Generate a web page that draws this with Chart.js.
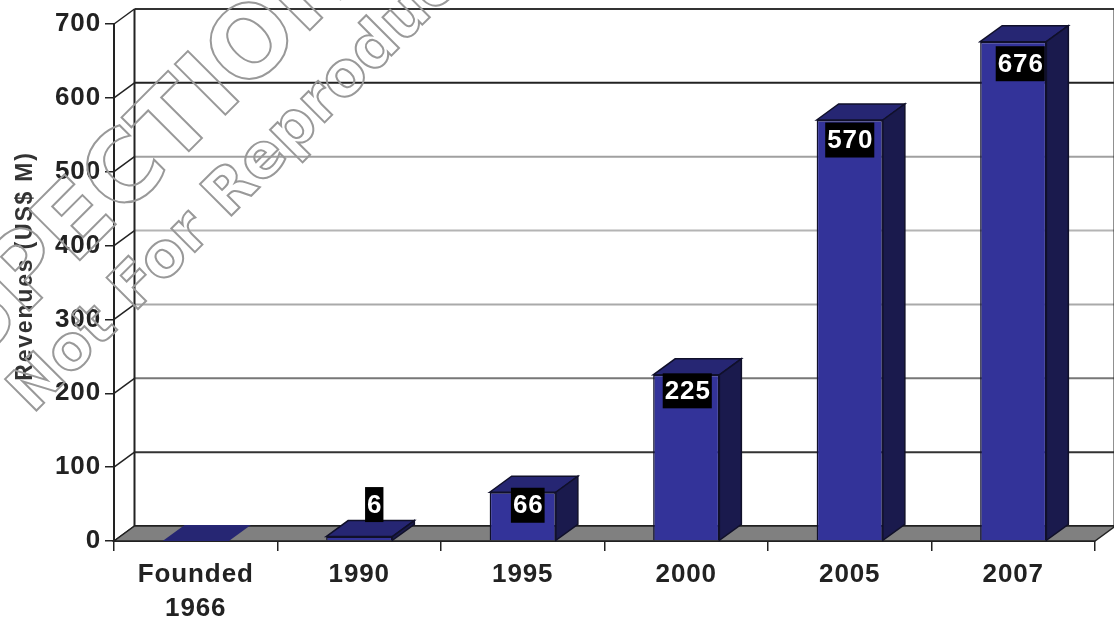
<!DOCTYPE html>
<html>
<head>
<meta charset="utf-8">
<title>Revenues</title>
<script src="https://cdn.jsdelivr.net/npm/chart.js@4"></script>
<style>
  html, body { margin:0; padding:0; background:#fff; overflow:hidden; }
  canvas { display:block; filter:blur(0.55px); }
</style>
</head>
<body>
<canvas id="chart" width="1114" height="623"></canvas>
<script>
const categories = [['Founded','1966'], '1990', '1995', '2000', '2005', '2007'];
const revenues = [0, 6, 66, 225, 570, 676];
const valueTicks = [0, 100, 200, 300, 400, 500, 600, 700];
const yTitle = 'Revenues (US$ M)';
const watermarkTop = 'INSPECTION COPY';
const watermarkBottom = 'Not For Reproduction';

// gridline tone per tick, the source image is uneven
const gridTones = { 0:'#222', 100:'#333', 200:'#777', 300:'#aaa', 400:'#b4b4b4', 500:'#a0a0a0', 600:'#222', 700:'#333' };
// label box nudges from the bar's top-centre [dx, dy]
const labelNudge = [null, [15, -32], [5, 13], [1, 16], [0, 20], [7, 22]];

const FONT = '"Liberation Sans", Arial, sans-serif';
const WALL = { dx: 20.5, dy: -15 };
const DEPTH = { dx: 22, dy: -16 };

function poly(ctx, pts, fill, stroke){
  ctx.beginPath();
  pts.forEach((p, i) => i ? ctx.lineTo(p[0], p[1]) : ctx.moveTo(p[0], p[1]));
  ctx.closePath();
  if (fill) { ctx.fillStyle = fill; ctx.fill(); }
  if (stroke) { ctx.strokeStyle = stroke; ctx.lineWidth = 1.5; ctx.stroke(); }
}

const wallPlugin = {
  id: 'wall',
  beforeDraw(chart){ chart.ctx.letterSpacing = '0.9px'; },
  beforeDatasetsDraw(chart){
    const { ctx, chartArea: a, scales: { y } } = chart;
    ctx.save();
    // back wall lines and the short diagonals on the left wall
    valueTicks.forEach(v => {
      const py = y.getPixelForValue(v);
      ctx.strokeStyle = gridTones[v];
      ctx.lineWidth = 2;
      ctx.beginPath();
      ctx.moveTo(a.left + WALL.dx, py + WALL.dy);
      ctx.lineTo(a.right + WALL.dx, py + WALL.dy);
      ctx.stroke();
      ctx.strokeStyle = '#222';
      ctx.lineWidth = 1.5;
      ctx.beginPath();
      ctx.moveTo(a.left, py);
      ctx.lineTo(a.left + WALL.dx, py + WALL.dy);
      ctx.stroke();
    });
    ctx.strokeStyle = '#222';
    ctx.lineWidth = 2;
    ctx.beginPath();
    ctx.moveTo(a.left + WALL.dx, a.top + WALL.dy);
    ctx.lineTo(a.left + WALL.dx, a.bottom + WALL.dy);
    ctx.moveTo(a.right + WALL.dx - 1, a.top + WALL.dy);
    ctx.lineTo(a.right + WALL.dx - 1, a.bottom + WALL.dy);
    ctx.stroke();
    // floor
    poly(ctx, [[a.left, a.bottom], [a.left + WALL.dx, a.bottom + WALL.dy],
      [a.right + WALL.dx, a.bottom + WALL.dy], [a.right, a.bottom]], '#808080', '#222');
    ctx.restore();
  },
  afterDatasetsDraw(chart){
    const { ctx } = chart;
    const bars = chart.getDatasetMeta(0).data;
    ctx.save();
    bars.forEach((b, i) => {
      const half = b.width / 2;
      const l = b.x - half, r = b.x + half, t = b.y, bot = b.base;
      const edge = revenues[i] > 0 ? '#10102a' : null;
      poly(ctx, [[l, t], [l + DEPTH.dx, t + DEPTH.dy], [r + DEPTH.dx, t + DEPTH.dy], [r, t]], '#262673', edge);
      if (edge) poly(ctx, [[r, t], [r + DEPTH.dx, t + DEPTH.dy], [r + DEPTH.dx, bot + DEPTH.dy], [r, bot]], '#1a1a4d', edge);
    });
    // value labels
    ctx.font = 'bold 26px ' + FONT;
    ctx.letterSpacing = '0.9px';
    ctx.textAlign = 'center';
    ctx.textBaseline = 'middle';
    bars.forEach((b, i) => {
      if (!labelNudge[i]) return;
      const txt = String(revenues[i]);
      const cx = b.x + labelNudge[i][0], cy = b.y + labelNudge[i][1];
      const w = ctx.measureText(txt).width + 3;
      ctx.fillStyle = '#000';
      ctx.fillRect(cx - w / 2, cy - 17.5, w, 35);
      ctx.fillStyle = '#fff';
      ctx.fillText(txt, cx + 0.5, cy + 1);
    });
    ctx.restore();
  },
  afterDraw(chart){
    const { ctx } = chart;
    // axis title
    ctx.save();
    ctx.translate(26, 266);
    ctx.rotate(-Math.PI / 2);
    ctx.font = 'bold 23px ' + FONT;
    ctx.letterSpacing = '1.8px';
    ctx.fillStyle = '#333';
    ctx.textAlign = 'center';
    ctx.textBaseline = 'middle';
    ctx.fillText(yTitle, 0, 0);
    ctx.restore();
    // outlined watermark
    ctx.save();
    ctx.strokeStyle = '#999';
    ctx.lineWidth = 2;
    ctx.lineJoin = 'miter';
    ctx.textBaseline = 'alphabetic';
    ctx.textAlign = 'left';
    ctx.letterSpacing = '0px';
    ctx.save();
    ctx.translate(0, 340);
    ctx.rotate(-Math.PI / 4);
    ctx.font = 'bold 98px "DejaVu Sans"';
    ctx.strokeText(watermarkTop, -157, 0);
    ctx.restore();
    ctx.save();
    ctx.translate(0, 447);
    ctx.rotate(-Math.PI / 4);
    ctx.font = 'bold 61px "DejaVu Sans"';
    ctx.strokeText(watermarkBottom, 46, 0);
    ctx.restore();
    ctx.restore();
  }
};

new Chart(document.getElementById('chart'), {
  type: 'bar',
  data: {
    labels: categories,
    datasets: [{
      data: revenues,
      backgroundColor: '#333399',
      borderColor: '#10102a',
      borderWidth: revenues.map(v => v > 0 ? 1.5 : 0),
      barPercentage: 0.405,
      categoryPercentage: 1
    }]
  },
  options: {
    responsive: false,
    animation: false,
    layout: { padding: { top: 24, right: 19, left: 0, bottom: 0 } },
    plugins: { legend: { display: false }, tooltip: { enabled: false } },
    scales: {
      x: {
        afterFit(s){ s.height = 82; },
        grid: { drawOnChartArea: false, drawTicks: true, tickLength: 10, color: '#222', lineWidth: 1.5 },
        border: { display: true, color: '#222', width: 2 },
        ticks: {
          maxRotation: 0, autoSkip: false, padding: 7, color: '#222',
          font: { family: FONT, size: 26, weight: 'bold', lineHeight: 1.31 }
        }
      },
      y: {
        min: 0, max: 700,
        afterFit(s){ s.width = 114; },
        afterBuildTicks(s){ s.ticks = valueTicks.map(v => ({ value: v })); },
        grid: { drawOnChartArea: false, drawTicks: true, tickLength: 9, color: '#222', lineWidth: 1.5 },
        border: { display: true, color: '#222', width: 2 },
        ticks: {
          padding: 4, color: '#222',
          font: { family: FONT, size: 26, weight: 'bold' }
        }
      }
    }
  },
  plugins: [wallPlugin]
});
</script>
</body>
</html>
